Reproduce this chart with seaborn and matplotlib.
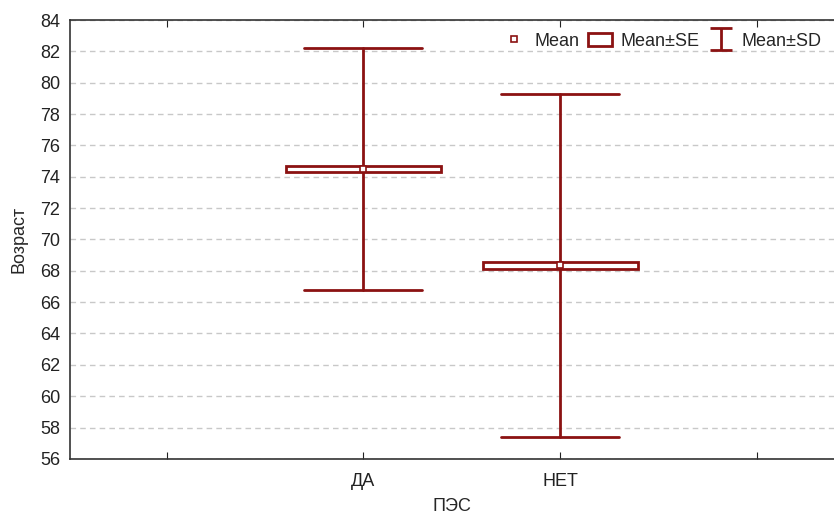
import numpy as np
import pandas as pd
import matplotlib
matplotlib.use("Agg")
import matplotlib.pyplot as plt
import seaborn as sns
from matplotlib.lines import Line2D
from matplotlib.patches import Rectangle
from matplotlib.path import Path

# Data
groups = ["ДА", "НЕТ"]
means = [74.5, 68.35]
se = [0.22, 0.22]
sd = [7.73, 10.95]

sns.set_style("white")
plt.rcParams["font.family"] = ["Liberation Sans", "DejaVu Sans"]

color = "#8b1212"
df = pd.DataFrame({"ПЭС": groups, "Mean": means, "SE": se, "SD": sd})
df["pos"] = np.arange(len(groups))

fig, ax = plt.subplots(figsize=(8.34, 5.15), dpi=100)
fig.subplots_adjust(left=0.084, right=1.0, top=0.961, bottom=0.109)

box_w = 0.79
cap_w = 0.6
for _, r in df.iterrows():
    x = r["pos"]
    # SD whisker
    ax.plot([x, x], [r["Mean"] - r["SD"], r["Mean"] + r["SD"]], color=color, lw=2, zorder=2)
    for y in (r["Mean"] - r["SD"], r["Mean"] + r["SD"]):
        ax.plot([x - cap_w / 2, x + cap_w / 2], [y, y], color=color, lw=2, zorder=2)
    # SE box
    ax.add_patch(Rectangle((x - box_w / 2, r["Mean"] - r["SE"]), box_w, 2 * r["SE"],
                           facecolor="white", edgecolor=color, lw=2, zorder=3))

sns.scatterplot(data=df, x="pos", y="Mean", marker="s", s=22, color="white",
                edgecolor=color, linewidth=1.2, zorder=4, ax=ax, legend=False)

ax.set_ylim(56, 84)
ax.set_yticks(np.arange(56, 85, 2))
ax.set_xlim(-1.49, 2.39)
ax.set_xticks([-1, 0, 1, 2])
ax.set_xticklabels(["", "ДА", "НЕТ", ""])
ax.tick_params(axis="both", direction="in", length=5, labelsize=13, colors="#222222",
               top=True, bottom=True, left=False)
ax.tick_params(axis="x", pad=10)
ax.tick_params(axis="y", pad=7)
ax.yaxis.grid(True, linestyle=(0, (4, 3)), color="#c8c8c8", lw=1)
ax.set_axisbelow(True)
ax.spines["right"].set_visible(False)
for s in ("left", "top", "bottom"):
    ax.spines[s].set_color("#333333")
    ax.spines[s].set_linewidth(1.2)
ax.set_xlabel("ПЭС", fontsize=13, labelpad=6)
ax.set_ylabel("Возраст", fontsize=13, labelpad=9)

ibar = Path([(-1, 1), (1, 1), (0, 1), (0, -1), (-1, -1), (1, -1)],
            [Path.MOVETO, Path.LINETO, Path.MOVETO, Path.LINETO, Path.MOVETO, Path.LINETO])
handles = [
    Line2D([], [], ls="none", marker="s", markersize=5, markerfacecolor="white",
           markeredgecolor=color, markeredgewidth=1.2),
    Rectangle((0, 0), 1, 1, facecolor="white", edgecolor=color, lw=2),
    Line2D([], [], ls="none", marker=ibar, markersize=16, markeredgecolor=color,
           markeredgewidth=2, fillstyle="none"),
]
ax.legend(handles, ["Mean", "Mean±SE", "Mean±SD"], ncol=3, loc="upper right",
          bbox_to_anchor=(1.0, 1.0), frameon=False, fontsize=13, handlelength=1.3,
          handletextpad=0.5, columnspacing=0.5, borderaxespad=0.3)

fig.savefig("out.png", dpi=100)
